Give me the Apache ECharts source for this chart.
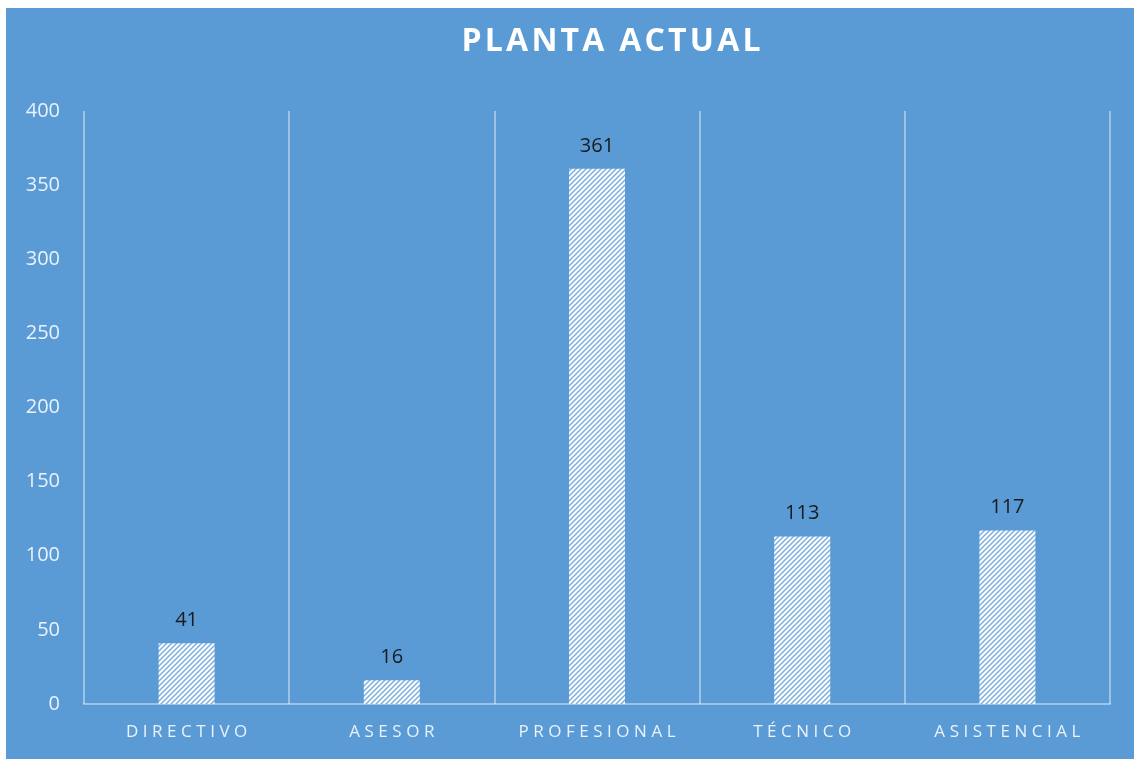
<!DOCTYPE html>
<html>
<head>
<meta charset="utf-8">
<script src="https://cdn.jsdelivr.net/npm/echarts@6/dist/echarts.min.js"></script>
<style>
html,body{margin:0;padding:0;background:#fff;}
#wrap{position:absolute;left:6px;top:8px;width:1128px;height:751px;background:#5B9BD5;}
#chart{position:absolute;left:0;top:0;width:1134px;height:759px;}
</style>
</head>
<body>
<div id="wrap"></div>
<div id="chart"></div>
<script>
const categories = ['DIRECTIVO', 'ASESOR', 'PROFESIONAL', 'TÉCNICO', 'ASISTENCIAL'];
const values = [41, 16, 361, 113, 117];
const yTicks = [0, 50, 100, 150, 200, 250, 300, 350, 400];
const titleText = 'PLANTA ACTUAL';

function spaced(s, sep) { return s.split('').join(sep); }

const pc = document.createElement('canvas');
pc.width = 5; pc.height = 5;
const ctx = pc.getContext('2d');
ctx.fillStyle = '#ffffff';
ctx.fillRect(0, 0, 5, 5);
ctx.strokeStyle = 'rgba(91,155,213,0.8)';
ctx.lineWidth = 1.5;
ctx.beginPath();
ctx.moveTo(-1, 6); ctx.lineTo(6, -1);
ctx.moveTo(-4, 4); ctx.lineTo(4, -4);
ctx.moveTo(1, 9); ctx.lineTo(9, 1);
ctx.stroke();

const chart = echarts.init(document.getElementById('chart'));
chart.setOption({
  backgroundColor: 'transparent',
  animation: false,
  title: {
    text: spaced(titleText, '\u200A'),
    left: 606,
    textAlign: 'center',
    top: 21,
    textStyle: { color: '#ffffff', fontFamily: 'Open Sans', fontWeight: 'bold', fontSize: 32 }
  },
  grid: { left: 84, right: 24, top: 111, bottom: 55 },
  xAxis: {
    type: 'category',
    data: categories,
    boundaryGap: true,
    axisLine: { show: true, lineStyle: { color: 'rgba(255,255,255,0.4)', width: 2 } },
    axisTick: { show: false },
    splitLine: { show: true, lineStyle: { color: 'rgba(255,255,255,0.4)', width: 2 } },
    axisLabel: {
      color: '#eaf2fb', fontFamily: 'Open Sans', fontSize: 17, margin: 20,
      formatter: v => spaced(v, '\u2009\u200A')
    }
  },
  yAxis: {
    type: 'value',
    min: yTicks[0],
    max: yTicks[yTicks.length - 1],
    interval: yTicks[1] - yTicks[0],
    axisLine: { show: false },
    axisTick: { show: false },
    splitLine: { show: false },
    axisLabel: { color: '#eaf2fb', fontFamily: 'Open Sans', fontSize: 20, margin: 24 }
  },
  series: [{
    type: 'bar',
    data: values,
    barWidth: 56,
    itemStyle: { color: { image: pc, repeat: 'repeat' } },
    label: {
      show: true, position: 'top', distance: 13,
      color: '#1a1a1a', fontFamily: 'Open Sans', fontSize: 20
    }
  }]
});
</script>
</body>
</html>
